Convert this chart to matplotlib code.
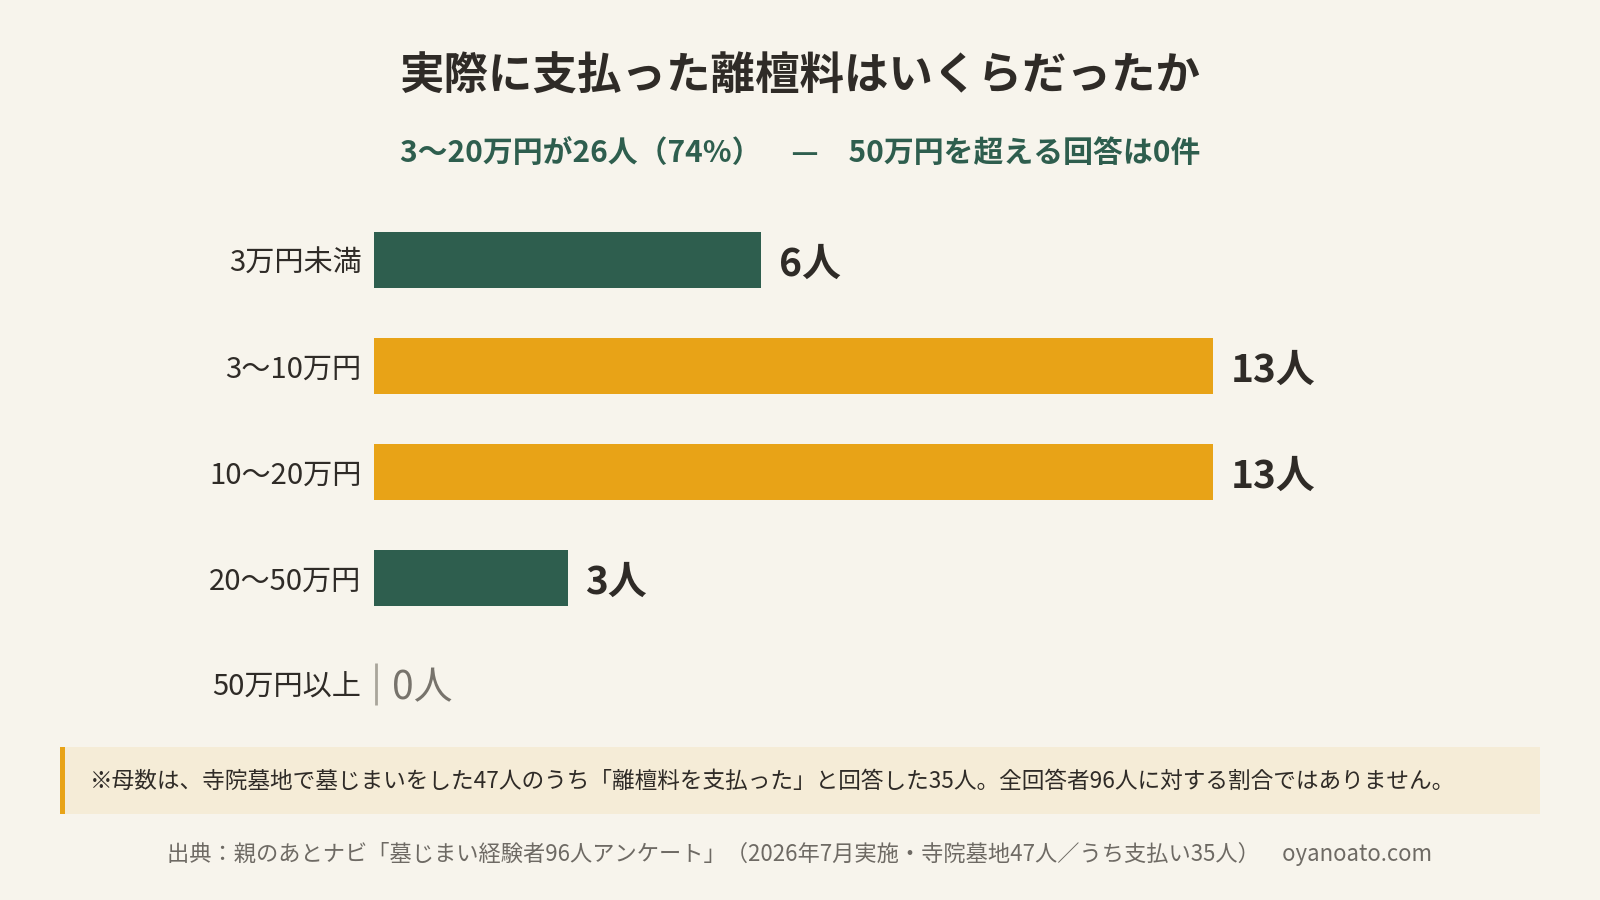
import matplotlib
matplotlib.use('Agg')
import matplotlib.pyplot as plt
from matplotlib.patches import Rectangle

plt.rcParams['font.family'] = ['Noto Sans CJK JP', 'DejaVu Sans']

# データ
categories = ['3万円未満', '3〜10万円', '10〜20万円', '20〜50万円', '50万円以上']
counts = [6, 13, 13, 3, 0]
highlight = [False, True, True, False, False]

title = '実際に支払った離檀料はいくらだったか'
subtitle = '3〜20万円が26人（74%）　—　50万円を超える回答は0件'
note = '※母数は、寺院墓地で墓じまいをした47人のうち「離檀料を支払った」と回答した35人。全回答者96人に対する割合ではありません。'
source = '出典：親のあとナビ「墓じまい経験者96人アンケート」（2026年7月実施・寺院墓地47人／うち支払い35人）　oyanoato.com'

BG = '#F7F4EC'
GREEN = '#2E5E4E'
GOLD = '#E8A317'
DARK = '#2F2B27'
GREY = '#6E6A64'

W, H = 1600, 900
fig = plt.figure(figsize=(16, 9), dpi=100, facecolor=BG)

# タイトルとサブタイトル
fig.text(0.5, 1 - 77 / H, title, ha='center', va='center', fontsize=32,
         fontweight='bold', color=DARK)
fig.text(0.5, 1 - 153 / H, subtitle, ha='center', va='center', fontsize=21.5,
         fontweight='bold', color=GREEN)

# 棒グラフ
ax = fig.add_axes([374 / W, 1 - 737 / H, 1226 / W, 530 / H])
ax.set_facecolor(BG)
px_per_unit = 64.5
ax.set_xlim(0, 1226 / px_per_unit)
ax.set_ylim(len(categories) - 0.5, -0.5)

ypos = list(range(len(categories)))
colors = [GOLD if h else GREEN for h in highlight]
ax.barh(ypos, counts, height=0.53, color=colors, edgecolor='none')

for y, v in zip(ypos, counts):
    if v == 0:
        ax.vlines(0.03, y - 0.2, y + 0.2, color='#A9A59B', lw=2)
        ax.text(v + 18 / px_per_unit, y + 0.04, f'{v}人', ha='left', va='center',
                fontsize=28, color='#77736C')
    else:
        ax.text(v + 18 / px_per_unit, y + 0.04, f'{v}人', ha='left', va='center',
                fontsize=28, fontweight='bold', color=DARK)

ax.set_yticks(ypos)
ax.set_yticklabels(categories, fontsize=21, color=DARK)
ax.tick_params(axis='y', length=0, pad=9)
ax.set_xticks([])
for s in ax.spines.values():
    s.set_visible(False)

# 注記ボックス
fig.patches.append(Rectangle((60 / W, 1 - 814 / H), 1480 / W, 67 / H,
                             transform=fig.transFigure, facecolor='#F5ECD7',
                             edgecolor='none', zorder=0))
fig.patches.append(Rectangle((60 / W, 1 - 814 / H), 5 / W, 67 / H,
                             transform=fig.transFigure, facecolor=GOLD,
                             edgecolor='none', zorder=1))
fig.text(90 / W, 1 - 781 / H, note, ha='left', va='center', fontsize=16.3,
         color=DARK)

# 出典
fig.text(0.5, 1 - 854 / H, source, ha='center', va='center', fontsize=16,
         color=GREY)

fig.savefig('out.png', dpi=100, facecolor=BG)
